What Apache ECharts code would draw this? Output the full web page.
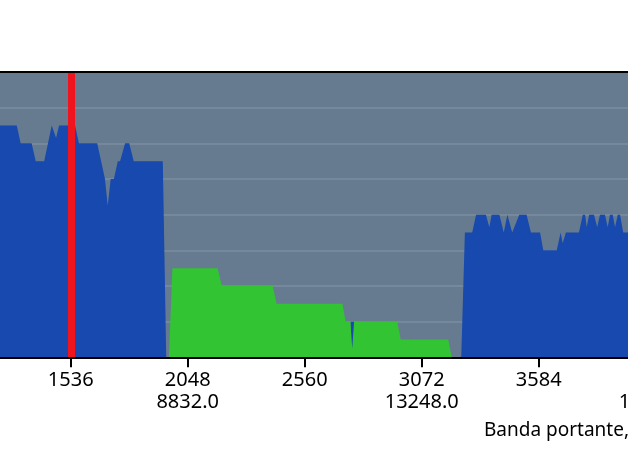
<!DOCTYPE html>
<html>
<head>
<meta charset="utf-8">
<script src="https://cdn.jsdelivr.net/npm/echarts@6/dist/echarts.min.js"></script>
<style>
html,body{margin:0;padding:0;background:#fff;}
#chart{width:628px;height:454px;}
</style>
</head>
<body>
<div id="chart"></div>
<script>
// carrier index / bits per carrier
const downstream = [
  [1024,13],[1300,13],[1317,12],[1365,12],[1383,11],[1420,11],[1453,13],[1472,12.3],[1485,13],
  [1555,13],[1572,12],[1652,12],[1686,10],[1698,8.5],[1711,10],[1725,10],[1742,11],[1752,11],
  [1774,12],[1792,12],[1812,11],[1939,11],[1954,0],
  [2759.5,0],[2760.5,2],[2776,2],[2777,0],
  [3245,0],[3261,7],[3293,7],[3310,8],[3353,8],[3368,7.3],[3378,8],[3412,8],[3431,7],[3447,8],
  [3454,8],[3468,7],[3499,8],[3531,8],[3550,7],[3590,7],[3604,6],[3663,6],[3680,7],[3689,6.4],
  [3703,7],[3760,7],[3777,8],[3787,8],[3794,7.3],[3805,8],[3826,8],[3840,7.3],[3852,8],[3874,8],
  [3886,7.3],[3896,8],[3908,8],[3918,7.3],[3930,8],[3940,8],[3954,7],[4096,7]
];
const upstream = [
  [1966,0],[1981,5],[2179,5],[2197,4],[2420,4],[2437,3],[2725,3],[2739,2],[2760,2],[2768,0.5],
  [2776,2],[2965,2],[2980,1],[3188,1],[3203,0]
];
const markerCarrier = [1539];
const carrierSpacingKHz = 4.3125;
const xMin = 1024, xMax = 4096, xStep = 512;
const yMin = 0, yMax = 16, yStep = 2;
const axisTitle = 'Banda portante, kHz';

const FONT = 'Noto Sans';
const chart = echarts.init(document.getElementById('chart'), null, {renderer:'canvas'});
chart.setOption({
  animation:false,
  grid:{left:-46.3, right:-27.7, top:72, bottom:96.7, show:true, containLabel:false,
        outerBoundsMode:'none',
        backgroundColor:'#667b8f', borderWidth:0},
  xAxis:[{
    type:'value', min:xMin, max:xMax, interval:xStep, position:'bottom', z:10,
    name:axisTitle, nameLocation:'middle', nameGap:62.7, nameMoveOverlap:false,
    nameTextStyle:{fontFamily:FONT, fontSize:19, color:'#000', align:'left',
                   verticalAlign:'top', lineHeight:22, padding:[0,0,0,179.3]},
    axisLine:{show:true, lineStyle:{color:'#000', width:2}},
    axisTick:{show:true, length:10, lineStyle:{color:'#000', width:2}},
    splitLine:{show:false},
    axisLabel:{show:true, showMinLabel:true, showMaxLabel:true, margin:12,
      fontFamily:FONT, fontSize:20, color:'#000', lineHeight:22,
      formatter:function(v){
        return (v % 1024 === 0) ? (v + '\n' + (v*carrierSpacingKHz).toFixed(1)) : String(v);
      }}
  },{
    type:'value', min:xMin, max:xMax, position:'top', z:10,
    axisLine:{show:true, onZero:false, lineStyle:{color:'#000', width:2}},
    axisTick:{show:false}, axisLabel:{show:false}, splitLine:{show:false}
  }],
  yAxis:{
    type:'value', min:yMin, max:yMax, interval:yStep,
    axisLine:{show:false}, axisTick:{show:false}, axisLabel:{show:false},
    splitLine:{show:true, lineStyle:{color:'#7d8ea1', width:1.5}}
  },
  series:[
    {type:'line', data:downstream, showSymbol:false, z:2,
     lineStyle:{width:0}, areaStyle:{color:'#1749ae', opacity:1}},
    {type:'line', data:upstream, showSymbol:false, z:3,
     lineStyle:{width:0}, areaStyle:{color:'#33c433', opacity:1},
     markLine:{silent:true, symbol:['none','none'], label:{show:false},
       lineStyle:{color:'#f0141e', width:7, type:'solid'},
       data:markerCarrier.map(c=>({xAxis:c}))}}
  ]
});
</script>
</body>
</html>
